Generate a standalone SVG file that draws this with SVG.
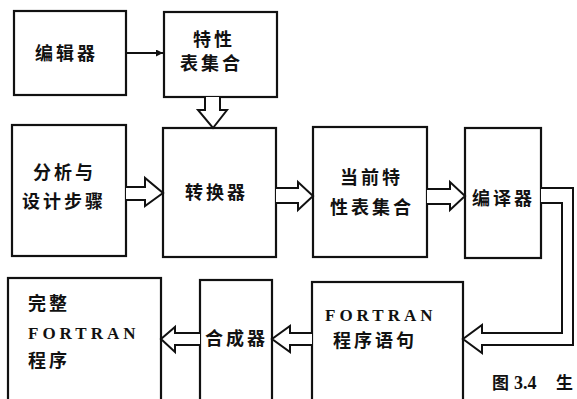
<svg xmlns="http://www.w3.org/2000/svg" width="577" height="399" viewBox="0 0 577 399">
<style>
.box{fill:#fff;stroke:#111;stroke-width:2.2}
.arr{fill:#fff;stroke:#111;stroke-width:2;stroke-linejoin:miter}
.cn{font-family:"Noto Sans CJK SC","Noto Sans",sans-serif;font-weight:bold;font-size:18px;fill:#111;letter-spacing:3px}
.en{font-family:"Liberation Serif",serif;font-weight:bold;font-size:17px;fill:#111;letter-spacing:4px}
.cap{font-family:"Noto Sans CJK SC",sans-serif;font-weight:bold;font-size:17px;fill:#111}
</style>
<defs>
<marker id="ah" viewBox="0 0 10 10" refX="10" refY="5" markerWidth="9" markerHeight="7" markerUnits="userSpaceOnUse" orient="auto"><path d="M0,0 L10,5 L0,10 z" fill="#111"/></marker>
</defs>
<rect width="577" height="399" fill="#fff"/>
<g id="editor"><rect class="box" x="14" y="11" width="112" height="84"/><text class="cn" x="35" y="60">编辑器</text></g>
<g id="feature-set"><rect class="box" x="164" y="12" width="113" height="85"/><text class="cn" x="193" y="46">特性</text><text class="cn" x="180" y="70">表集合</text></g>
<g id="analysis"><rect class="box" x="12" y="125" width="114" height="131"/><text class="cn" x="33" y="179">分析与</text><text class="cn" x="22" y="208">设计步骤</text></g>
<g id="converter"><rect class="box" x="163" y="128" width="113" height="129"/><text class="cn" x="185" y="199">转换器</text></g>
<g id="current-set"><rect class="box" x="313" y="127" width="114" height="130"/><text class="cn" x="340" y="184">当前特</text><text class="cn" x="330" y="214">性表集合</text></g>
<g id="compiler"><rect class="box" x="465" y="128" width="76" height="130"/><text class="cn" x="472" y="205">编译器</text></g>
<g id="full-program"><rect class="box" x="8" y="278" width="153" height="135"/><text class="cn" x="28" y="310">完整</text><text class="en" x="28" y="339">FORTRAN</text><text class="cn" x="28" y="367">程序</text></g>
<g id="synth"><rect class="box" x="200" y="280" width="72" height="133"/><text class="cn" x="205" y="345">合成器</text></g>
<g id="statements"><rect class="box" x="312" y="282" width="151" height="131"/><text class="en" x="325" y="321">FORTRAN</text><text class="cn" x="333" y="347">程序语句</text></g>
<g id="connectors">
<line x1="126" y1="53" x2="163" y2="53" stroke="#111" stroke-width="2" marker-end="url(#ah)"/>
<polyline class="arr" points="205,97 205,110 198,110 213,128 227,110 220,110 220,97"/>
<polyline class="arr" points="126,187 145,187 145,178 163,193 145,206 145,200 126,200"/>
<polyline class="arr" points="276,188 298,188 298,182 313,196 298,210 298,203 276,203"/>
<polyline class="arr" points="427,189 450,189 450,182 465,196 450,210 450,204 427,204"/>
<polyline class="arr" points="541,188 573,188 573,345 482,345 482,353 463,339 482,325 482,333 562,333 562,203 541,203"/>
<polyline class="arr" points="312,333 290,333 290,326 272,339 290,352 290,345 312,345"/>
<polyline class="arr" points="200,333 175,333 175,327 161,339 175,352 175,345 200,345"/>
</g>
<g id="caption"><text class="cap" x="492" y="389">图</text><text x="514" y="389" style="font-family:'Liberation Serif',serif;font-weight:bold;font-size:18px;fill:#111">3.4</text><text class="cap" x="556" y="389">生</text></g>
</svg>
